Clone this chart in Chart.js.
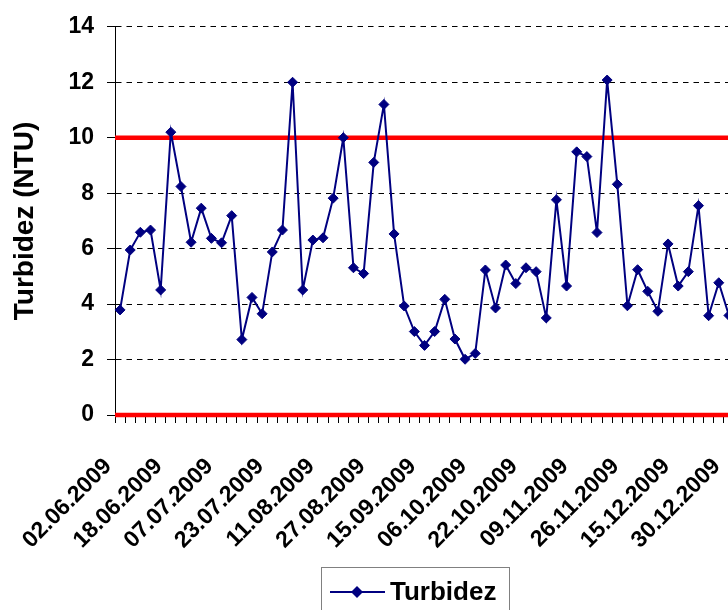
<!DOCTYPE html>
<html>
<head>
<meta charset="utf-8">
<script src="https://cdn.jsdelivr.net/npm/chart.js@4.4.0/dist/chart.umd.min.js"></script>
<style>
    html, body { margin: 0; padding: 0; background: #fff; overflow: hidden; }
    #wrap { width: 728px; height: 610px; overflow: hidden; }
    canvas { display: block; }
</style>
</head>
<body>
<div id="wrap"><canvas id="turbChart" width="740" height="610"></canvas></div>
<script>
// Sample dates printed on the axis (every 5th sample)
const tickDates = [
    '02.06.2009', '18.06.2009', '07.07.2009', '23.07.2009', '11.08.2009',
    '27.08.2009', '15.09.2009', '06.10.2009', '22.10.2009', '09.11.2009',
    '26.11.2009', '15.12.2009', '30.12.2009'
];

// Turbidity readings (NTU)
const turbidity = [
    3.79, 5.95, 6.59, 6.67, 4.51, 10.2, 8.24, 6.23, 7.46, 6.37,
    6.21, 7.19, 2.72, 4.24, 3.65, 5.88, 6.67, 12.0, 4.51, 6.31,
    6.39, 7.82, 10.0, 5.31, 5.10, 9.11, 11.2, 6.53, 3.93, 3.01,
    2.51, 3.01, 4.17, 2.74, 2.01, 2.22, 5.23, 3.86, 5.41, 4.74,
    5.31, 5.17, 3.50, 7.76, 4.65, 9.49, 9.32, 6.58, 12.08, 8.32,
    3.94, 5.24, 4.46, 3.74, 6.17, 4.65, 5.17, 7.55, 3.58, 4.77,
    3.59
];

// Reference limits drawn in red
const limitLines = [0, 10];

const categories = turbidity.map((v, i) => (i % 5 === 0 ? tickDates[i / 5] : ''));

const fontFamily = "Arial, 'Liberation Sans', sans-serif";
const navy = '#000080';

// Red limit lines across the plot area
const limitPlugin = {
    id: 'limitLines',
    beforeDatasetsDraw(chart) {
        const { ctx, chartArea, scales } = chart;
        ctx.save();
        ctx.strokeStyle = '#ff0000';
        ctx.lineWidth = 4.5;
        limitLines.forEach(v => {
            const py = scales.y.getPixelForValue(v);
            ctx.beginPath();
            ctx.moveTo(chartArea.left, py);
            ctx.lineTo(chartArea.right, py);
            ctx.stroke();
        });
        ctx.restore();
    }
};

// Excel-style boxed legend
const legendPlugin = {
    id: 'boxLegend',
    afterDraw(chart) {
        const ctx = chart.ctx;
        const ds = chart.data.datasets[0];
        const cy = 592;
        ctx.save();
        ctx.strokeStyle = '#808080';
        ctx.lineWidth = 1;
        ctx.strokeRect(321.5, 567.5, 188, 60);

        ctx.strokeStyle = ds.borderColor;
        ctx.lineWidth = 2;
        ctx.beginPath();
        ctx.moveTo(330, cy);
        ctx.lineTo(385, cy);
        ctx.stroke();

        ctx.fillStyle = ds.pointBackgroundColor;
        ctx.beginPath();
        ctx.moveTo(357 - 6, cy);
        ctx.lineTo(357, cy - 6);
        ctx.lineTo(357 + 6, cy);
        ctx.lineTo(357, cy + 6);
        ctx.closePath();
        ctx.fill();

        ctx.fillStyle = '#000';
        ctx.font = 'bold 26px ' + fontFamily;
        ctx.textBaseline = 'middle';
        ctx.textAlign = 'left';
        ctx.fillText(ds.label, 390, cy + 1);
        ctx.restore();
    }
};

const ctx = document.getElementById('turbChart').getContext('2d');
new Chart(ctx, {
    type: 'line',
    data: {
        labels: categories,
        datasets: [{
            label: 'Turbidez',
            data: turbidity,
            borderColor: navy,
            borderWidth: 2,
            pointStyle: 'rectRot',
            pointRadius: 5,
            pointBorderWidth: 1,
            pointBackgroundColor: navy,
            pointBorderColor: navy,
            tension: 0
        }]
    },
    options: {
        responsive: false,
        animation: false,
        layout: {
            padding: { top: 24, right: 6, bottom: 60, left: 0 }
        },
        plugins: {
            legend: { display: false },
            tooltip: { enabled: false }
        },
        scales: {
            x: {
                offset: true,
                grid: {
                    offset: true,
                    drawOnChartArea: false,
                    drawTicks: true,
                    tickLength: 8,
                    tickColor: '#000'
                },
                border: { display: true, color: '#000', width: 1 },
                ticks: {
                    autoSkip: false,
                    minRotation: 45,
                    maxRotation: 45,
                    labelOffset: -12,
                    padding: 30,
                    color: '#000',
                    font: { family: fontFamily, size: 23, weight: 'bold' }
                },
                afterFit(scale) {
                    // keep the plot running to the right edge like the original
                    scale.height = 135;
                    scale.paddingLeft = 0;
                    scale.paddingRight = 0;
                }
            },
            y: {
                min: 0,
                max: 14,
                ticks: {
                    stepSize: 2,
                    padding: 13,
                    color: '#000',
                    font: { family: fontFamily, size: 23, weight: 'bold' }
                },
                grid: {
                    color: '#000',
                    lineWidth: 1,
                    tickLength: 8,
                    tickColor: '#000',
                    tickBorderDash: []
                },
                border: { display: true, color: '#000', width: 1, dash: [5.5, 5] },
                title: {
                    display: true,
                    text: 'Turbidez (NTU)',
                    color: '#000',
                    padding: { top: 8, bottom: 0 },
                    font: { family: fontFamily, size: 28, weight: 'bold' }
                },
                afterFit(scale) {
                    scale.width = 115;
                }
            }
        }
    },
    plugins: [limitPlugin, legendPlugin]
});
</script>
</body>
</html>
